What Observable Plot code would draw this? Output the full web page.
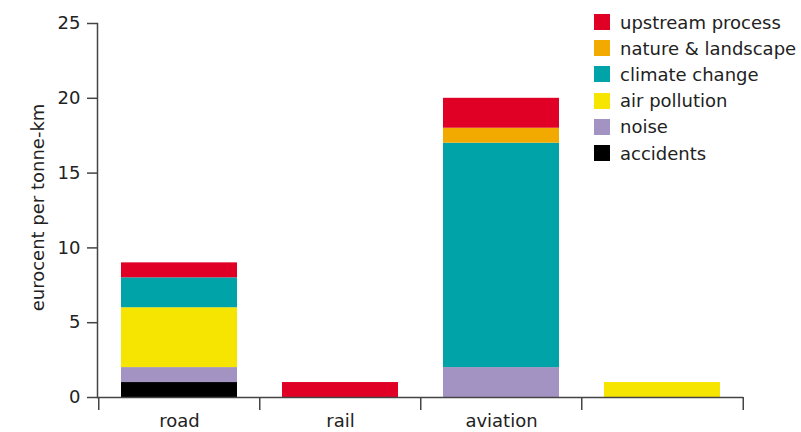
<!DOCTYPE html>
<html>
<head>
<meta charset="utf-8">
<script src="https://cdn.jsdelivr.net/npm/d3@7"></script>
<script src="https://cdn.jsdelivr.net/npm/@observablehq/plot@0.6"></script>
<style>
  body { margin: 0; background: #fff; font-family: "DejaVu Sans", sans-serif; }
  #wrap { position: relative; width: 801px; height: 432px; }
  #legend { position: absolute; left: 594px; top: 9px; font-size: 18px; color: #222; }
  .row { display: flex; align-items: center; height: 26.2px; }
  .sw { width: 16px; height: 16px; margin-right: 10px; }
</style>
</head>
<body>
<div id="wrap"><div id="legend"></div></div>
<script>
const categories = ["road", "rail", "aviation", "other"];
const tickLabels = ["road", "rail", "aviation", ""];
const series = ["accidents", "noise", "air pollution", "climate change", "nature & landscape", "upstream process"];
const colors = ["#000000", "#a393c2", "#f5e500", "#00a3a8", "#f2a900", "#e00025"];
const accidents = [1, 0, 0, 0];
const noise = [1, 0, 2, 0];
const airPollution = [4, 0, 0, 1];
const climateChange = [2, 0, 15, 0];
const natureLandscape = [0, 0, 1, 0];
const upstreamProcess = [1, 1, 2, 0];
const yTicks = [0, 5, 10, 15, 20, 25];
const yLabel = "eurocent per tonne-km";

const valuesBySeries = [accidents, noise, airPollution, climateChange, natureLandscape, upstreamProcess];
const data = [];
series.forEach((s, si) => categories.forEach((c, ci) => {
  const v = valuesBySeries[si][ci];
  if (v > 0) data.push({category: c, series: s, value: v});
}));

const W = 801, H = 432, mL = 97, mR = 58, mT = 23, mB = 35;
const step = (W - mL - mR) / categories.length;
const axisColor = "#444";

const chart = Plot.plot({
  width: W, height: H,
  marginLeft: mL, marginRight: mR, marginTop: mT, marginBottom: mB,
  style: {fontFamily: "DejaVu Sans, sans-serif", fontSize: "18px", color: "#222", background: "#fff"},
  x: {domain: categories, paddingInner: 0.28, paddingOuter: 0.14, axis: null},
  y: {domain: [0, 25], axis: null},
  color: {domain: series, range: colors},
  marks: [
    Plot.barY(data, {x: "category", y: "value", fill: "series", order: series}),
    Plot.axisY({ticks: yTicks, tickSize: 10, tickPadding: 7, stroke: axisColor, strokeWidth: 1.5, label: null, fill: "#222", fontSize: 18}),
    Plot.axisX({tickSize: 0, tickPadding: 17, tickFormat: (d) => tickLabels[categories.indexOf(d)], label: null, fill: "#222", fontSize: 18}),
    Plot.frame({anchor: "left", stroke: axisColor, strokeWidth: 1.5}),
    Plot.ruleY([0], {stroke: axisColor, strokeWidth: 1.5}),
    Plot.ruleX(categories, {x: d => d, y1: 0, y2: 0, insetBottom: -13, dx: -step / 2, stroke: axisColor, strokeWidth: 1.5}),
    Plot.ruleX([categories[categories.length - 1]], {x: d => d, y1: 0, y2: 0, insetBottom: -13, dx: step / 2, stroke: axisColor, strokeWidth: 1.5}),
    Plot.text([yLabel], {frameAnchor: "left", textAnchor: "middle", rotate: -90, dx: -59, dy: -3, fill: "#222", fontSize: 18})
  ]
});
document.getElementById("wrap").prepend(chart);

const legend = document.getElementById("legend");
[...series].reverse().forEach(s => {
  const row = document.createElement("div");
  row.className = "row";
  const sw = document.createElement("div");
  sw.className = "sw";
  sw.style.background = colors[series.indexOf(s)];
  const t = document.createElement("span");
  t.textContent = s;
  row.append(sw, t);
  legend.append(row);
});
</script>
</body>
</html>
